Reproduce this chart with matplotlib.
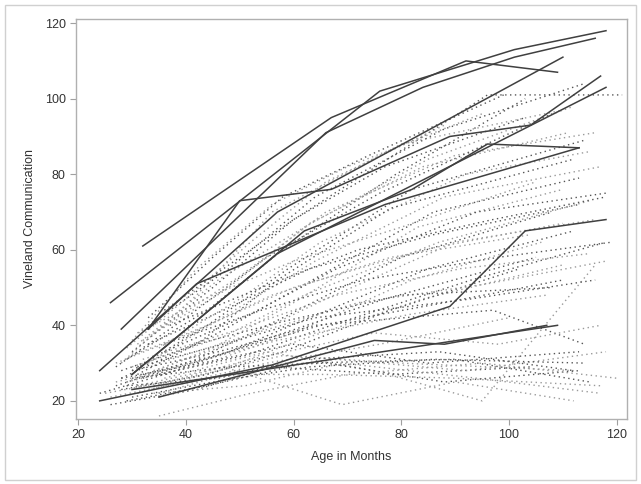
import matplotlib
matplotlib.use("Agg")
import matplotlib.pyplot as plt
from matplotlib.patches import Rectangle

plt.rcParams["font.family"] = ["Liberation Sans", "DejaVu Sans"]

# highlighted subjects (solid lines): age in months, score
solid_age = [
    [32, 67, 92, 109],
    [26, 76, 101, 118],
    [28, 66, 84, 101, 116],
    [33, 50, 67, 89, 104, 117],
    [24, 57, 110],
    [30, 57, 118],
    [30, 62, 82, 96, 113],
    [33, 42, 57, 77, 113],
    [24, 56, 89, 103, 118],
    [35, 75, 88, 107],
    [30, 109],
]
solid_score = [
    [61, 95, 110, 107],
    [46, 102, 113, 118],
    [39, 91, 103, 111, 116],
    [39, 73, 76, 90, 93, 106],
    [28, 70, 111],
    [27, 59, 103],
    [27, 65, 76, 88, 87],
    [39, 51, 60, 72, 87],
    [20, 29.5, 45, 65, 68],
    [21, 36, 35, 40],
    [23, 40],
]

# remaining subjects (dotted lines)
dot_age = [
    [30, 45, 60, 96, 121], [28, 42, 56, 80, 110], [33, 48, 64, 88, 114],
    [31, 46, 62, 85, 112], [29, 44, 58, 79, 103], [34, 50, 66, 90, 116],
    [27, 40, 55, 76, 108], [32, 47, 63, 84, 111], [30, 44, 59, 82, 114],
    [35, 50, 65, 92, 115], [28, 43, 57, 78, 112], [33, 49, 64, 88, 117],
    [31, 46, 61, 86, 113], [29, 45, 60, 83, 110], [36, 52, 68, 94, 118],
    [30, 47, 62, 87, 115], [27, 42, 58, 80, 108], [34, 50, 66, 90, 116],
    [32, 48, 63, 85, 112], [29, 44, 60, 82, 106], [35, 51, 67, 93, 118],
    [31, 46, 61, 84, 110], [28, 44, 58, 78, 102], [30, 42, 56, 70, 95],
    [33, 45, 58, 74, 99], [29, 40, 52, 66, 88], [36, 48, 60, 77, 103],
    [25, 40, 58, 80, 112], [29, 44, 62, 90, 115], [31, 47, 69, 90, 112],
    [26, 42, 56, 78, 104], [36, 55, 75, 95, 116], [30, 46, 64, 97, 114],
    [34, 52, 75, 98, 117], [28, 43, 60, 85, 113], [35, 50, 68, 92, 118],
    [32, 48, 65, 88, 110], [27, 41, 57, 82, 107], [30, 45, 63, 86, 114],
    [33, 49, 66, 90, 117], [29, 46, 62, 87, 112], [26, 40, 55, 76, 100],
    [31, 47, 64, 93, 116], [35, 53, 72, 96, 118], [28, 42, 58, 80, 108],
    [32, 50, 68, 91, 115], [36, 54, 73, 98, 119], [34, 51, 69, 94, 117],
    [30, 48, 66, 88, 113], [35, 52, 70, 95, 120], [24, 36, 52, 77, 105],
    [30, 44, 60, 84, 110], [33, 47, 63, 86, 113], [27, 41, 56, 78, 104],
    [37, 54, 72, 97, 118], [31, 45, 60, 80, 105],
]
dot_score = [
    [33, 50, 68, 101, 101], [30, 48, 70, 88, 97], [40, 55, 74, 92, 104],
    [35, 52, 66, 84, 98], [31, 44, 60, 80, 100], [38, 53, 70, 85, 91],
    [29, 42, 58, 75, 96], [36, 49, 67, 82, 91], [28, 40, 55, 76, 89],
    [34, 47, 62, 80, 86], [26, 36, 52, 71, 84], [30, 44, 57, 74, 82],
    [27, 38, 50, 70, 79], [25, 34, 46, 66, 76], [33, 43, 55, 70, 75],
    [29, 37, 48, 62, 73], [24, 31, 42, 58, 70], [28, 36, 47, 62, 68],
    [26, 33, 42, 55, 65], [25, 30, 38, 52, 62], [27, 32, 40, 52, 62],
    [22, 28, 36, 47, 56], [23, 27, 33, 44, 55], [36, 55, 72, 82, 96],
    [42, 58, 74, 85, 101], [34, 47, 62, 78, 93], [44, 56, 68, 82, 95],
    [22, 26, 32, 30, 28], [20, 24, 30, 31, 25], [24, 29, 19, 25, 20],
    [19, 23, 29, 27, 29], [26, 33, 28, 20, 56], [28, 33, 40, 44, 35],
    [24, 31, 38, 35, 40], [26, 30, 35, 30, 33], [22, 28, 31, 28, 33],
    [27, 33, 40, 46, 52], [25, 30, 36, 43, 48], [21, 25, 29, 31, 30],
    [23, 27, 27, 26, 24], [24, 26, 31, 33, 28], [21, 25, 30, 35, 42],
    [29, 35, 42, 47, 52], [30, 38, 46, 51, 57], [28, 35, 41, 48, 50],
    [31, 39, 48, 55, 59], [35, 44, 52, 58, 62], [22, 24, 30, 26, 22],
    [26, 29, 30, 25, 28], [16, 22, 27, 30, 26], [22, 27, 35, 47, 58],
    [32, 40, 50, 60, 67], [35, 44, 55, 64, 72], [30, 38, 48, 58, 64],
    [40, 50, 60, 68, 74], [38, 48, 57, 66, 78],
]

fig = plt.figure(figsize=(6.41, 4.84), dpi=100)
ax = fig.add_axes([76 / 641, 1 - 419 / 484, (627 - 76) / 641, (419 - 19) / 484])

# dotted background subjects, two shades of grey
for i, (xs, ys) in enumerate(zip(dot_age, dot_score)):
    col = "#555555" if i % 2 == 0 else "#9a9a9a"
    ax.plot(xs, ys, linestyle=(0, (1, 2.5)), color=col, linewidth=1.0)

# solid highlighted subjects on top
for xs, ys in zip(solid_age, solid_score):
    ax.plot(xs, ys, "-", color="#404040", linewidth=1.1)

ax.set_xlim(19.6, 121.9)
ax.set_ylim(15.2, 121.1)
ax.set_xticks([20, 40, 60, 80, 100, 120])
ax.set_yticks([20, 40, 60, 80, 100, 120])
ax.set_xlabel("Age in Months", fontsize=9, color="#333333", labelpad=7)
ax.set_ylabel("Vineland Communication", fontsize=9, color="#333333", labelpad=6)
ax.tick_params(colors="#333333", labelsize=9, length=4, width=0.8)
ax.tick_params(axis="both", color="#a0a0a0")
for sp in ax.spines.values():
    sp.set_color("#b0b0b0")
    sp.set_linewidth(1.0)

# light frame round the whole picture
fig.patches.append(Rectangle((5 / 641, 4 / 484), 631 / 641, 475 / 484,
                             transform=fig.transFigure, fill=False,
                             edgecolor="#d0d0d0", linewidth=1.0))

fig.savefig("out.png", dpi=100)
